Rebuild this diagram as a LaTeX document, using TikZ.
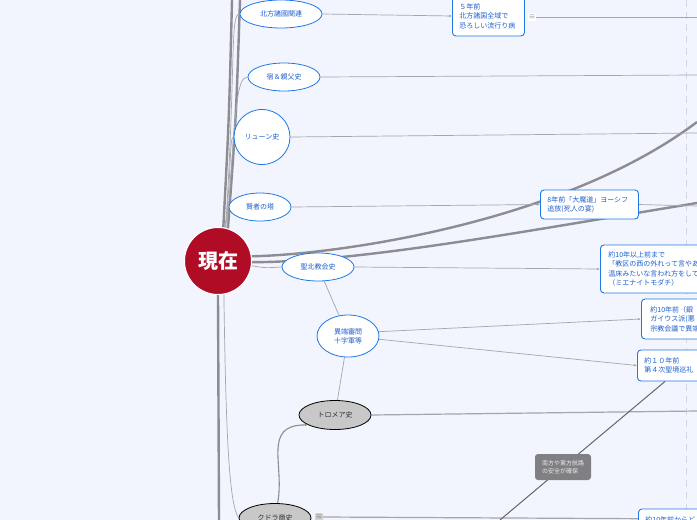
\documentclass[tikz,border=0pt]{standalone}
\usepackage{fontspec}
\setmainfont{Noto Sans CJK JP}
\usetikzlibrary{shapes.geometric,arrows.meta,calc}
\usepackage{xcolor}
\definecolor{MapPaper}{RGB}{242,245,254}
\definecolor{MapBlue}{RGB}{30,120,230}
\definecolor{MapInk}{RGB}{30,95,205}
\definecolor{MapRed}{RGB}{176,12,38}
\definecolor{MapLine}{RGB}{165,165,172}
\definecolor{MapTrunk}{RGB}{140,140,145}
\definecolor{MapShade}{RGB}{200,200,200}
\definecolor{MapNote}{RGB}{128,128,132}
\definecolor{MapDash}{RGB}{212,216,226}
\pgfdeclarelayer{paper}
\pgfdeclarelayer{links}
\pgfsetlayers{paper,links,main}

\begin{document}
\begin{tikzpicture}[x=1pt,y=-1pt,
topic/.style={ellipse,draw=MapBlue,fill=white,line width=0.8pt,inner sep=0pt,
text=MapInk,font=\fontsize{7}{9}\selectfont,align=center},
oldtopic/.style={topic,draw=black,fill=MapShade,text=black!80},
card/.style={rectangle,rounded corners=3.5pt,draw=MapBlue,fill=white,line width=0.9pt,
text=MapInk,font=\fontsize{7}{9.5}\selectfont,align=left,anchor=west,inner xsep=7pt},
icon/.style={rectangle,rounded corners=1pt,fill=white,text=MapTrunk,inner sep=0.5pt,
font=\fontsize{7}{7}\selectfont,minimum size=8pt},
link/.style={draw=MapLine,line width=0.7pt},
trunk/.style={draw=MapTrunk,line width=2.4pt},
arrow/.style={link,-{Latex[length=3pt,width=2.5pt]}}
]
\useasboundingbox (0,0) rectangle (697,520);
\begin{pgfonlayer}{paper}
\fill[MapPaper] (0,0) rectangle (697,520);
\end{pgfonlayer}

\node[circle,fill=MapRed,draw=white,line width=1pt,minimum size=67pt,inner sep=0pt,
text=white,font=\fontsize{20}{20}\selectfont\bfseries] (now) at (218,261) {現在};

\node[topic,minimum width=82pt,minimum height=28pt] (north) at (281,14) {北方諸國関連};
\node[topic,minimum width=72pt,minimum height=28pt] (inn) at (284,77) {宿＆親父史};
\node[topic,minimum width=56pt,minimum height=55pt] (lune) at (262,137) {リューン史};
\node[topic,minimum width=62pt,minimum height=28pt] (sage) at (260,207) {賢者の塔};
\node[topic,minimum width=72pt,minimum height=28pt] (church) at (318,267) {聖北教会史};
\node[topic,minimum width=62pt,minimum height=42pt] (heresy) at (348,336) {異端審問\\十字軍等};
\node[oldtopic,minimum width=72pt,minimum height=29pt] (tromea) at (335,415) {トロメア史};
\node[oldtopic,minimum width=72pt,minimum height=29pt] (kudora) at (275,518) {クドラ商史};

\node[card,text width=58pt,minimum height=40pt] (plague) at (452,16) {５年前\\北方諸国全域で\\恐ろしい流行り病};
\node[icon] (plaguenote) at (532,17) {≡};
\node[card,text width=84pt,minimum height=29pt] (mage) at (540,204.5) {8年前「大魔道」ヨーシフ\\追放(死人の宴)};
\node[card,text width=120pt,minimum height=48pt,inner xsep=8pt] (ghost) at (600,269)
{約10年以上前まで\\「教区の西の外れって言やあ\\温床みたいな言われ方をして\\（ミエナイトモダチ）};
\node[card,text width=80pt,minimum height=40pt,inner xsep=9pt] (gaius) at (641,319) {約10年前（銀\\ガイウス派(悪\\宗教会議で異端};
\node[card,text width=80pt,minimum height=31pt] (crusade) at (637,365.5) {約１０年前\\第４次聖境巡礼};
\node[card,text width=80pt,minimum height=22pt] (late) at (638,520) {約10年前からど};
\node[rectangle,rounded corners=3pt,fill=MapNote,text=white!82!MapNote,font=\fontsize{6}{8}\selectfont,
align=left,minimum width=56pt,minimum height=26pt] (safe) at (563,467) {南方や東方航路\\の安全が確保};
\node[icon,fill=MapShade!80,text=black!55] (kudoranote) at (319,517) {≡};

\coordinate (upA) at (232,0); \coordinate (upB) at (240,0); \coordinate (down) at (219,520);
\coordinate (rightA) at (697,122); \coordinate (rightB) at (697,203);
\coordinate (plagueout) at (697,17); \coordinate (innout) at (697,75); \coordinate (luneout) at (697,133);
\coordinate (mageout) at (697,206); \coordinate (tromeaout) at (697,411); \coordinate (kudoraout) at (697,519);
\coordinate (safeout) at (500,520); \coordinate (dashtop) at (686,0); \coordinate (dashbottom) at (686,520);

\begin{pgfonlayer}{links}
\draw[MapDash,line width=0.8pt,dash pattern=on 7pt off 5pt] (dashtop) -- (dashbottom);
\draw[trunk] (now.81) .. controls (229,120) .. (upA);
\draw[trunk] (now.73) .. controls (236,120) .. (upB);
\draw[trunk] (now.south) -- (down);
\draw[trunk] (now.8) .. controls (330,255) and (560,225) .. (rightA);
\draw[trunk] (now.-2) .. controls (360,262) and (520,232) .. (rightB);
\draw[link] (now.77) .. controls (236,60) and (230,14) .. (north.west);
\draw[link] (now.75) .. controls (236,110) and (236,77) .. (inn.west);
\draw[link] (now.78) .. controls (232,170) and (229,137) .. (lune.west);
\draw[link] (now.80) .. controls (229,220) and (226,207) .. (sage.west);
\draw[link] (now.-8) .. controls (265,268) .. (church.west);
\draw[link] (now.-80) .. controls (226,450) and (230,505) .. (kudora.west);
\draw[arrow] (north.east) -- (plague.west); \draw[link] (plaguenote.east) -- (plagueout);
\draw[link] (inn.east) -- (innout); \draw[link] (lune.east) -- (luneout);
\draw[arrow] (sage.east) -- (mage.west); \draw[link] (mage.east) -- (mageout);
\draw[arrow] (church.east) -- (ghost.west); \draw[link] (church) -- (heresy);
\draw[arrow] (heresy.8) -- (gaius.west); \draw[arrow] (heresy.-6) -- (crusade.west);
\draw[link] (heresy) -- (tromea);
\draw[link,line width=1.2pt] (tromea.east) -- (tromeaout);
\draw[link,line width=1.2pt] (kudoranote.east) -- (kudoraout);
\draw[arrow,draw=MapTrunk,line width=1.1pt] (kudora.80) .. controls (285,465) and (262,425) .. (tromea.200);
\draw[draw=black!60,line width=1pt] (safeout) -- (safe.center) -- ($(crusade.south west)+(28,0)$);
\end{pgfonlayer}
\end{tikzpicture}
\end{document}
